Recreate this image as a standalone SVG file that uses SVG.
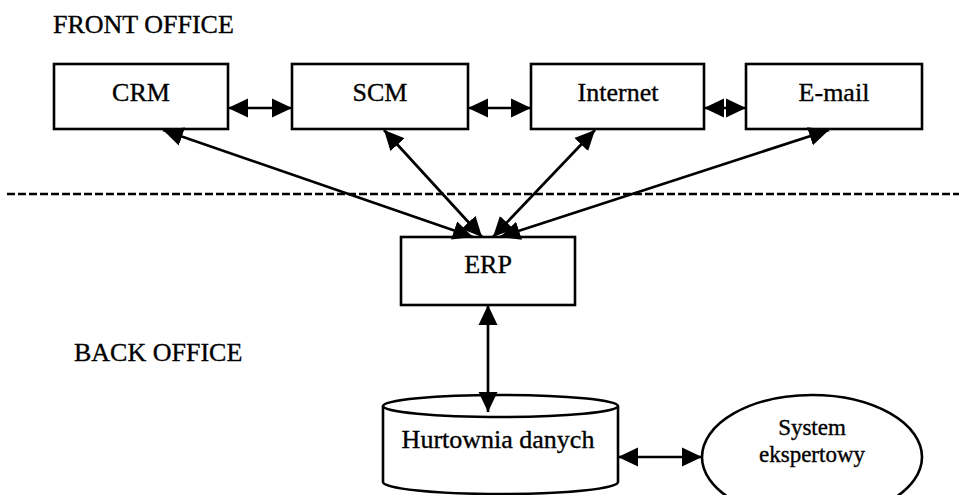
<svg xmlns="http://www.w3.org/2000/svg" width="959" height="495" viewBox="0 0 959 495">
<style>
.box{fill:#fff;stroke:#000;stroke-width:2.6}
.t{font-family:"Liberation Serif","Times New Roman",serif;font-size:26px;fill:#000;stroke:#000;stroke-width:0.35;text-anchor:middle}
.lbl{font-family:"Liberation Serif","Times New Roman",serif;font-size:26px;fill:#000;stroke:#000;stroke-width:0.35}
.c{stroke:#000;stroke-width:2.7;fill:none}
.dash{stroke:#000;stroke-width:2.6;stroke-dasharray:8 3;fill:none}
</style>
<defs>
<marker id="ah" viewBox="0 0 20 20" refX="20" refY="10" markerWidth="20" markerHeight="20" markerUnits="userSpaceOnUse" orient="auto-start-reverse">
<path d="M0,0.5 L20,10 L0,19.5 z" fill="#000"/>
</marker>
</defs>
<rect width="959" height="495" fill="#fff"/>
<text class="lbl" x="53" y="33">FRONT OFFICE</text>
<text class="lbl" x="74" y="361">BACK OFFICE</text>
<line class="dash" x1="7" y1="194" x2="959" y2="194"/>
<g id="crm"><rect class="box" x="54" y="64" width="174" height="65"/><text class="t" x="141" y="101">CRM</text></g>
<g id="scm"><rect class="box" x="292" y="64" width="176" height="65"/><text class="t" x="380" y="101">SCM</text></g>
<g id="internet"><rect class="box" x="531" y="64" width="173" height="65"/><text class="t" x="618" y="101">Internet</text></g>
<g id="email"><rect class="box" x="746" y="64" width="176" height="65"/><text class="t" x="834" y="101">E-mail</text></g>
<g id="erp"><rect class="box" x="401" y="237" width="174" height="68"/><text class="t" x="488" y="273">ERP</text></g>
<g id="hurtownia">
<path class="box" d="M383,406 L383,482 A117.5,12 0 0 0 618,482 L618,406"/>
<ellipse class="box" cx="500.5" cy="406" rx="117.5" ry="11"/>
<text class="t" x="498" y="448">Hurtownia danych</text>
</g>
<g id="system">
<ellipse class="box" cx="812" cy="457" rx="110" ry="62"/>
<text class="t" x="812" y="435" style="font-size:23px">System</text>
<text class="t" x="812" y="462" style="font-size:23px">ekspertowy</text>
</g>
<g id="connectors">
<line class="c" x1="228" y1="108" x2="292" y2="108" marker-start="url(#ah)" marker-end="url(#ah)"/>
<line class="c" x1="468" y1="108" x2="531" y2="108" marker-start="url(#ah)" marker-end="url(#ah)"/>
<line class="c" x1="704" y1="108" x2="746" y2="108" marker-start="url(#ah)" marker-end="url(#ah)"/>
<line class="c" x1="163" y1="130" x2="473" y2="237" marker-start="url(#ah)" marker-end="url(#ah)"/>
<line class="c" x1="384" y1="130" x2="482" y2="237" marker-start="url(#ah)" marker-end="url(#ah)"/>
<line class="c" x1="595" y1="130" x2="493" y2="237" marker-start="url(#ah)" marker-end="url(#ah)"/>
<line class="c" x1="829" y1="130" x2="500" y2="237" marker-start="url(#ah)" marker-end="url(#ah)"/>
<line class="c" x1="488" y1="305" x2="488" y2="412" marker-start="url(#ah)" marker-end="url(#ah)"/>
<line class="c" x1="618" y1="457" x2="702" y2="457" marker-start="url(#ah)" marker-end="url(#ah)"/>
</g>
</svg>
